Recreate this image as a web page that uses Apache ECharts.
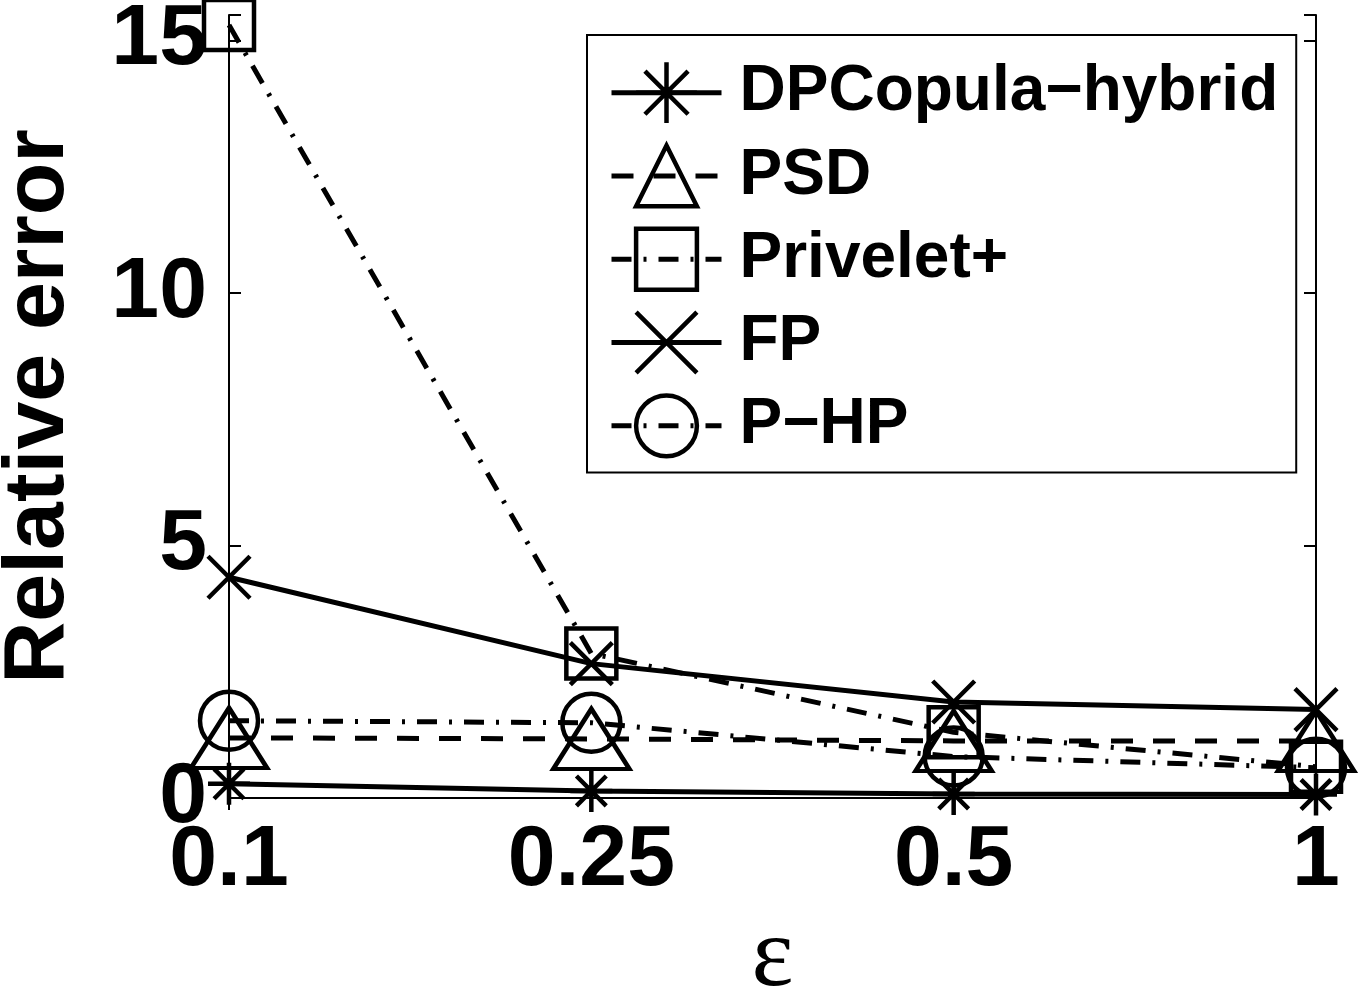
<!DOCTYPE html>
<html>
<head>
<meta charset="utf-8">
<script src="https://cdn.jsdelivr.net/npm/echarts@6/dist/echarts.min.js"></script>
<style>
html,body{margin:0;padding:0;background:#fff;}
#chart{width:1363px;height:1002px;}
</style>
</head>
<body>
<div id="chart"></div>
<script>
const categories = ['0.1', '0.25', '0.5', '1'];
const dpcopulaHybrid = [0.28, 0.14, 0.08, 0.07];
const psd = [1.19, 1.17, 1.13, 1.13];
const priveletPlus = [15.3, 2.86, 1.3, 0.62];
const fp = [4.37, 2.66, 1.9, 1.75];
const pHp = [1.53, 1.49, 0.82, 0.6];
const seriesNames = ['DPCopula\u2212hybrid', 'PSD', 'Privelet+', 'FP', 'P\u2212HP'];
const yTicks = [0, 5, 10, 15];

const FONT = "'Liberation Sans', Arial, sans-serif";
const ASTERISK = 'path://M0,-1L0,1M-1,0L1,0M-0.71,-0.71L0.71,0.71M-0.71,0.71L0.71,-0.71';
const XMARK = 'path://M-1,-1L1,1M-1,1L1,-1';
const DASH = [22, 20];
const DASHDOT = [20, 12, 3, 12];

function mk(name, data, symbol, size, dash) {
  return {
    name: name,
    type: 'line',
    data: data,
    symbol: symbol,
    symbolSize: size,
    showAllSymbol: true,
    lineStyle: { color: '#000', width: 5, type: dash },
    itemStyle: { color: 'rgba(0,0,0,0)', borderColor: '#000', borderWidth: 4.5 },
    emphasis: { disabled: true },
    animation: false
  };
}

const chart = echarts.init(document.getElementById('chart'), null, { renderer: 'canvas' });
chart.setOption({
  backgroundColor: '#fff',
  animation: false,
  grid: { left: 229, right: 47, top: 15, bottom: 204, containLabel: false, outerBoundsMode: 'none' },
  legend: {
    orient: 'vertical',
    left: 587,
    top: 35,
    itemWidth: 110,
    itemHeight: 76,
    itemGap: 18,
    padding: [25, 18, 14, 22],
    borderColor: '#000',
    borderWidth: 2,
    backgroundColor: '#fff',
    data: seriesNames,
    lineStyle: { width: 5, color: '#000' },
    itemStyle: { borderWidth: 4.5, borderColor: '#000' },
    textStyle: { fontFamily: FONT, fontWeight: 'bold', fontSize: 64, color: '#000', padding: [6, 0, 0, 13] }
  },
  xAxis: [{
    type: 'category',
    data: categories,
    boundaryGap: false,
    position: 'bottom',
    name: '\u03b5',
    nameLocation: 'middle',
    nameGap: 102,
    nameTextStyle: { fontFamily: "'Liberation Serif', 'DejaVu Serif', serif", fontSize: 100, color: '#000' },
    axisLine: { show: true, lineStyle: { color: '#000', width: 2 } },
    axisTick: { show: true, inside: true, length: 12, lineStyle: { color: '#000', width: 2 } },
    axisLabel: { fontFamily: FONT, fontWeight: 'bold', fontSize: 86, color: '#000', margin: 20 },
    splitLine: { show: false }
  }, {
    type: 'category',
    data: categories,
    boundaryGap: false,
    position: 'top',
    axisLine: { show: true, lineStyle: { color: '#000', width: 2 } },
    axisTick: { show: true, inside: true, length: 12, lineStyle: { color: '#000', width: 2 } },
    axisLabel: { show: false },
    splitLine: { show: false }
  }],
  yAxis: [{
    type: 'value',
    min: 0,
    max: 15.5,
    interval: 5,
    position: 'left',
    name: 'Relative error',
    nameLocation: 'middle',
    nameGap: 147,
    nameTextStyle: { fontFamily: FONT, fontWeight: 'bold', fontSize: 86, color: '#000' },
    axisLine: { show: true, lineStyle: { color: '#000', width: 2 } },
    axisTick: { show: true, inside: true, length: 12, lineStyle: { color: '#000', width: 2 } },
    axisLabel: {
      fontFamily: FONT, fontWeight: 'bold', fontSize: 86, color: '#000', margin: 22,
      formatter: function (v) { return yTicks.indexOf(v) >= 0 ? String(v) : ''; }
    },
    splitLine: { show: false }
  }, {
    type: 'value',
    min: 0,
    max: 15.5,
    interval: 5,
    position: 'right',
    axisLine: { show: true, lineStyle: { color: '#000', width: 2 } },
    axisTick: { show: true, inside: true, length: 12, lineStyle: { color: '#000', width: 2 } },
    axisLabel: { show: false },
    splitLine: { show: false }
  }],
  series: [
    mk(seriesNames[0], dpcopulaHybrid, ASTERISK, 42, 'solid'),
    mk(seriesNames[1], psd, 'triangle', [76, 60], DASH),
    mk(seriesNames[2], priveletPlus, 'rect', 50, DASHDOT),
    mk(seriesNames[3], fp, XMARK, 42, 'solid'),
    mk(seriesNames[4], pHp, 'circle', 58, DASHDOT)
  ]
});
</script>
</body>
</html>
